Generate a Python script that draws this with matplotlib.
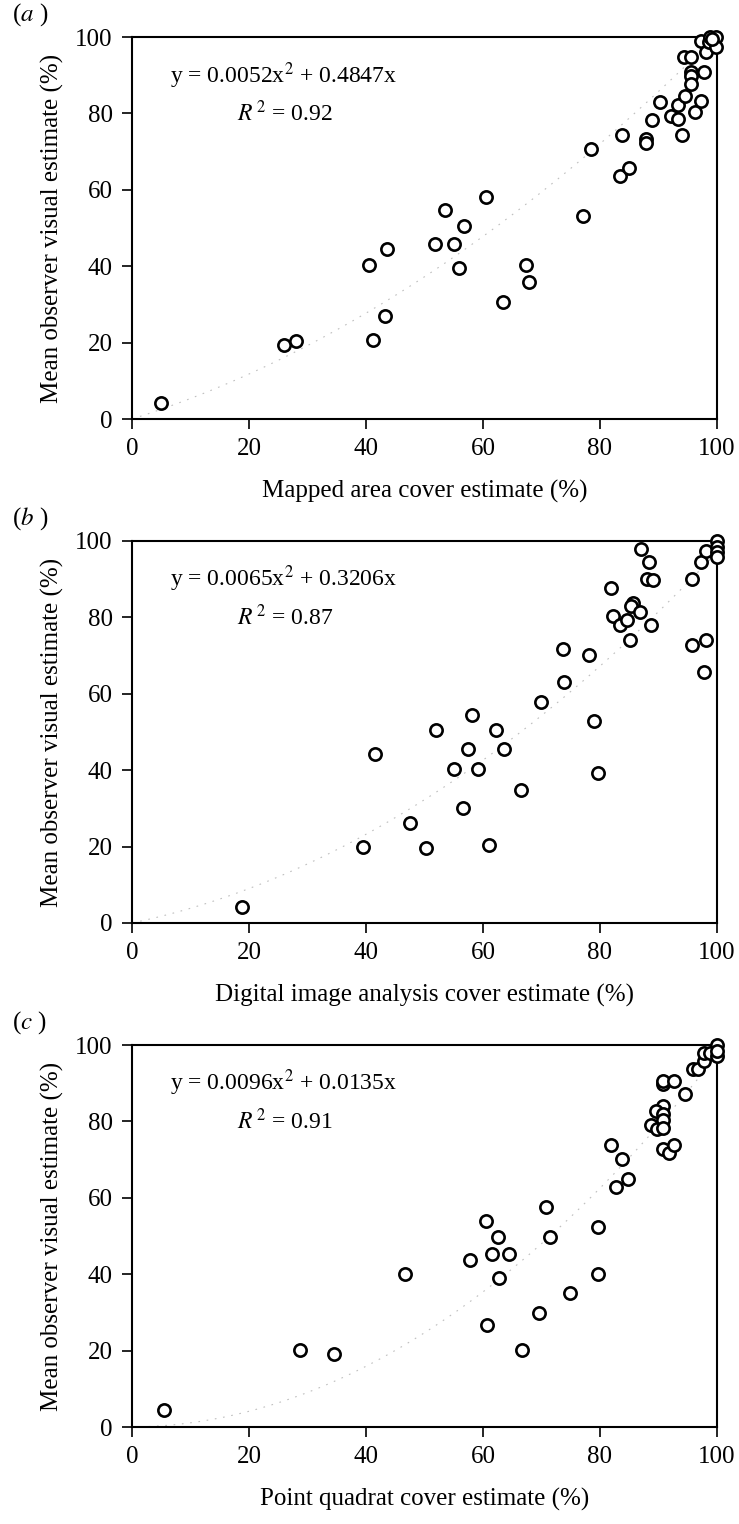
import numpy as np
import matplotlib.pyplot as plt

plt.rcParams['font.family'] = ['Liberation Serif', 'DejaVu Serif']
plt.rcParams['mathtext.fontset'] = 'stix'

# panel (a): mapped area vs mean visual estimate
a_x = [5.0, 26.0, 28.1, 40.5, 41.2, 43.6, 43.3, 51.8, 55.0, 55.9, 53.5, 56.7, 60.5,
       63.4, 67.3, 67.8, 77.1, 78.5, 83.8, 83.4, 84.9, 87.9, 87.9, 88.9, 90.3, 92.1,
       93.4, 93.4, 94.1, 94.6, 94.3, 95.5, 95.5, 95.5, 95.5, 96.2, 97.3, 97.7, 97.2,
       98.1, 98.6, 98.8, 99.8, 99.8, 99.2]
a_y = [4.2, 19.4, 20.5, 40.4, 20.6, 44.4, 26.9, 45.8, 45.8, 39.5, 54.7, 50.6, 58.2,
       30.5, 40.4, 35.8, 53.2, 70.7, 74.4, 63.5, 65.6, 73.4, 72.2, 78.3, 83.1, 79.4,
       82.2, 78.5, 74.3, 84.6, 94.7, 94.7, 90.9, 89.7, 87.7, 80.4, 83.3, 90.9, 98.9,
       96.2, 98.8, 100.0, 100.0, 97.5, 99.5]

# panel (b): digital image analysis
b_x = [18.8, 39.5, 41.6, 47.5, 50.2, 55.1, 56.5, 57.5, 59.2, 61.0, 63.6, 66.5, 79.6,
       52.0, 58.1, 62.3, 69.9, 73.7, 73.8, 78.2, 78.9, 81.8, 82.3, 83.4, 84.7, 85.1,
       85.6, 85.3, 86.8, 87.0, 88.3, 88.0, 89.1, 88.8, 95.8, 95.8, 97.2, 98.1, 98.1,
       97.7, 100.0, 100.0, 100.0, 100.0]
b_y = [4.2, 20.0, 44.2, 26.3, 19.7, 40.2, 30.0, 45.6, 40.2, 20.3, 45.6, 34.9, 39.3,
       50.4, 54.5, 50.4, 57.9, 71.8, 63.0, 70.2, 53.0, 87.6, 80.3, 77.9, 79.3, 74.2,
       83.9, 83.1, 81.5, 98.0, 94.4, 90.1, 89.7, 77.9, 90.1, 72.7, 94.4, 97.4, 74.2,
       65.7, 100.0, 98.5, 97.0, 95.9]

# panel (c): point quadrat
c_x = [5.5, 28.7, 34.6, 46.6, 57.7, 62.7, 60.6, 66.7, 69.6, 74.8, 79.7, 61.5, 64.4,
       62.6, 60.5, 70.7, 71.5, 79.6, 81.8, 82.8, 84.8, 83.7, 88.7, 89.7, 90.7, 91.8,
       92.7, 90.7, 90.7, 92.7, 90.7, 89.6, 90.7, 90.7, 90.7, 94.5, 95.9, 96.8, 97.8,
       97.8, 98.8, 100.0, 100.0, 100.0]
c_y = [4.4, 20.2, 19.2, 40.0, 43.8, 39.1, 26.6, 20.2, 29.8, 35.1, 40.0, 45.3, 45.3,
       49.8, 54.0, 57.7, 49.8, 52.3, 73.9, 62.9, 65.0, 70.2, 79.1, 78.0, 72.8, 71.7,
       73.9, 89.7, 90.5, 90.5, 84.1, 82.8, 81.9, 80.3, 78.2, 87.1, 93.8, 93.8, 95.7,
       97.9, 97.9, 100.0, 97.0, 98.3]

panel_tags = ['a', 'b', 'c']
xlabels = ['Mapped area cover estimate (%)',
           'Digital image analysis cover estimate (%)',
           'Point quadrat cover estimate (%)']
quad_coef = [0.0052, 0.0065, 0.0096]
lin_coef = [0.4847, 0.3206, 0.0135]
r2_vals = ['0.92', '0.87', '0.91']
xs = [a_x, b_x, c_x]
ys = [a_y, b_y, c_y]

W, H = 739, 1524
fig = plt.figure(figsize=(W / 100, H / 100), dpi=100)

tops = [37, 541, 1045]   # pixel top of each axes
ax_h = 382
left, right = 132, 717

for i in range(3):
    ax = fig.add_axes([left / W, 1 - (tops[i] + ax_h) / H, (right - left) / W, ax_h / H])
    xx = np.linspace(0, 100, 200)
    ax.plot(xx, quad_coef[i] * xx ** 2 + lin_coef[i] * xx, color='0.75',
            linestyle=(0, (1.5, 6)), linewidth=0.8, zorder=1)
    ax.scatter(xs[i], ys[i], s=78, facecolors='white', edgecolors='black',
               linewidths=1.9, zorder=3, clip_on=False)
    ax.set_xlim(0, 100)
    ax.set_ylim(0, 100)
    ax.set_xticks(range(0, 101, 20))
    ax.set_yticks(range(0, 101, 20))
    ax.tick_params(direction='out', length=7, width=1.2, labelsize=18, pad=7)
    for sp in ax.spines.values():
        sp.set_linewidth(1.5)
    ax.set_xlabel(xlabels[i], fontsize=18, labelpad=14)
    ax.set_ylabel('Mean observer visual estimate (%)', fontsize=18, labelpad=8)
    ax.text(0.065, 0.90, 'y = %sx$^2$ + %sx' % (quad_coef[i], lin_coef[i]),
            transform=ax.transAxes, fontsize=17, va='center')
    ax.text(0.18, 0.80, '$R^{\\,2}$ = ' + r2_vals[i], transform=ax.transAxes,
            fontsize=17, va='center')
    fig.text(12 / W, 1 - (tops[i] - 22) / H, '($%s$ )' % panel_tags[i], fontsize=18,
             va='center', ha='left')

fig.savefig('out.png', dpi=100)
